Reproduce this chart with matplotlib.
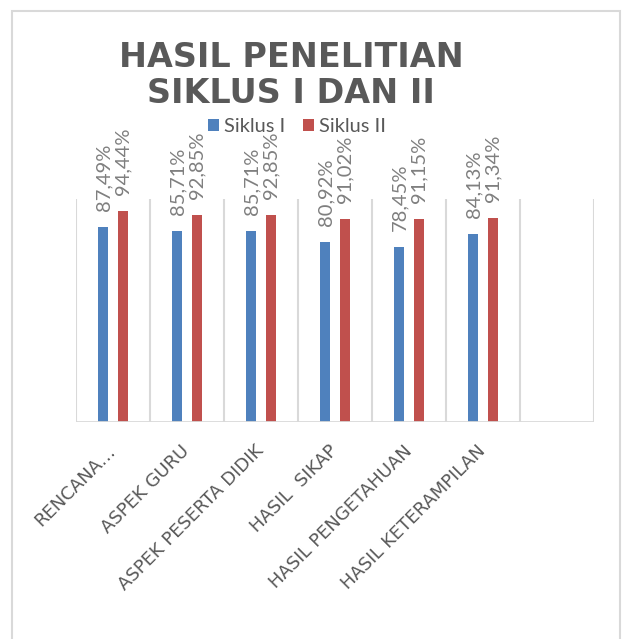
import matplotlib
matplotlib.use("Agg")
import matplotlib.pyplot as plt
import numpy as np
from matplotlib.patches import Rectangle, Patch

categories = ["RENCANA…", "ASPEK GURU", "ASPEK PESERTA DIDIK", "HASIL  SIKAP",
              "HASIL PENGETAHUAN", "HASIL KETERAMPILAN", ""]
siklus1 = [87.49, 85.71, 85.71, 80.92, 78.45, 84.13]
siklus2 = [94.44, 92.85, 92.85, 91.02, 91.15, 91.34]
labels1 = ["87,49%", "85,71%", "85,71%", "80,92%", "78,45%", "84,13%"]
labels2 = ["94,44%", "92,85%", "92,85%", "91,02%", "91,15%", "91,34%"]
series_names = ["Siklus I", "Siklus II"]
title = "HASIL PENELITIAN\nSIKLUS I DAN II"

W, H = 624, 639
fig = plt.figure(figsize=(W / 100, H / 100), dpi=100)
fig.patch.set_facecolor("white")

# chart border
fig.add_artist(Rectangle((12 / W, -0.02), (620 - 12) / W, 1 - 11 / H + 0.02,
                         transform=fig.transFigure, fill=False,
                         edgecolor="#d9d9d9", linewidth=1.5))

ax = fig.add_axes([76 / W, (H - 422) / H, 518 / W, 223 / H])
blue = "#4f81bd"
red = "#c0504d"
grid_c = "#d9d9d9"
txt_c = "#595959"

n = len(categories)
x = np.arange(len(siklus1))
bw = 0.135
off = 0.13
b1 = ax.bar(x - off, siklus1, width=bw, color=blue, zorder=3)
b2 = ax.bar(x + off, siklus2, width=bw, color=red, zorder=3)

for bars, labs in ((b1, labels1), (b2, labels2)):
    for rect, lab in zip(bars, labs):
        ax.annotate(lab, (rect.get_x() + rect.get_width() / 2, rect.get_height()),
                    xytext=(0, 11.5), textcoords="offset points",
                    rotation=90, ha="center", va="bottom",
                    fontsize=14.5, family="Lato", color="#7f7f7f")

ax.set_xlim(-0.5, n - 0.5)
ax.set_ylim(0, 100)
for b in np.arange(-0.5, n, 1.0):
    ax.axvline(b, color=grid_c, linewidth=1.5, zorder=1)
ax.axhline(0, color=grid_c, linewidth=2, zorder=4)

for s in ax.spines.values():
    s.set_visible(False)
ax.set_yticks([])
ax.set_xticks(np.arange(n))
ax.set_xticklabels(categories, rotation=45, ha="right", va="center",
                   rotation_mode="anchor", fontsize=13, color=txt_c,
                   family="DejaVu Sans")
ax.tick_params(axis="x", length=0, pad=19)

fig.text(291 / W, 1 - 41 / H, title, ha="center", va="top",
         fontsize=24, fontweight="bold", color=txt_c, family="DejaVu Sans",
         linespacing=1.12)

handles = [Patch(facecolor=blue, label=series_names[0]),
           Patch(facecolor=red, label=series_names[1])]
leg = fig.legend(handles=handles, loc="center", bbox_to_anchor=(297 / W, 1 - 127 / H),
                 ncol=2, frameon=False, handlelength=0.55, handleheight=0.55,
                 handletextpad=0.25, columnspacing=0.85,
                 prop={"family": "Lato", "size": 14.4})
for t in leg.get_texts():
    t.set_color(txt_c)

fig.savefig("out.png", dpi=100)
